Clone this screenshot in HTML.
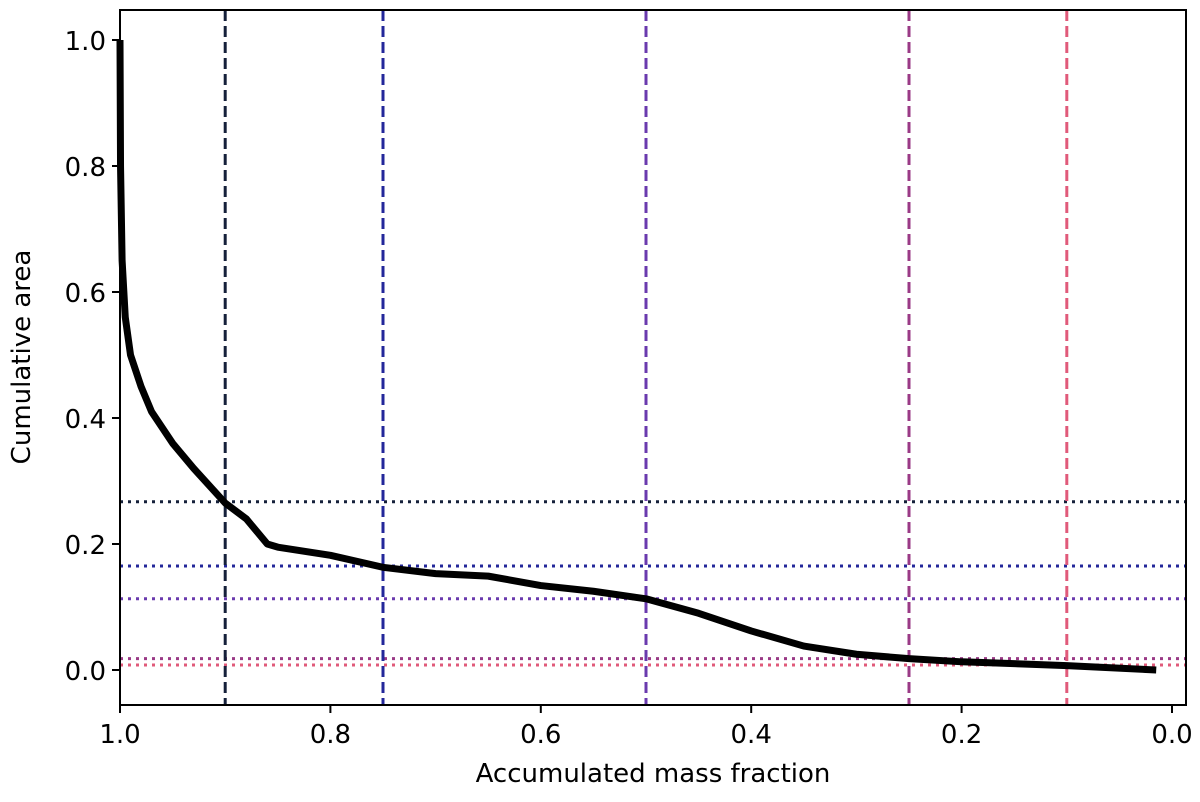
<!DOCTYPE html>
<html><head><meta charset="utf-8"><style>
body{margin:0;background:#fff;}
svg text{font-family:"DejaVu Sans","Liberation Sans",sans-serif;fill:#000;}
</style></head><body>
<svg id="chart" width="1200" height="797" xmlns="http://www.w3.org/2000/svg"></svg>
<script>
const xs=[1.0,0.9995,0.998,0.995,0.99,0.98,0.97,0.95,0.93,0.9,0.88,0.86,0.85,0.8,0.75,0.7,0.65,0.6,0.55,0.5,0.45,0.4,0.35,0.3,0.25,0.2,0.1,0.015];
const ys=[1.0,0.8,0.65,0.56,0.5,0.45,0.41,0.36,0.32,0.265,0.24,0.2,0.195,0.182,0.163,0.153,0.149,0.134,0.125,0.113,0.09,0.062,0.038,0.025,0.018,0.013,0.007,0.0];
const vLines=[0.9,0.75,0.5,0.25,0.1];
const hLines=[0.267,0.165,0.113,0.018,0.008];
const lineColors=["#15203a","#23279a","#6a3aae","#9a3a86","#e05a7a"];
const xTicks=[1.0,0.8,0.6,0.4,0.2,0.0];
const yTicks=[0.0,0.2,0.4,0.6,0.8,1.0];
const L=120,R=1186,T=10,B=705;
const X=v=>L+(1-v)*1052;
const Y=v=>670-v*630;
const svg=document.getElementById('chart');
const NS='http://www.w3.org/2000/svg';
function mk(tag,attrs,parent){const e=document.createElementNS(NS,tag);for(const k in attrs)e.setAttribute(k,attrs[k]);(parent||svg).appendChild(e);return e;}
hLines.forEach((v,i)=>{const e=mk('line',{x1:L,x2:R,y1:Y(v),y2:Y(v),stroke:lineColors[i],'stroke-width':3,'stroke-dasharray':'3,5'});

});
vLines.forEach((v,i)=>{const e=mk('line',{x1:X(v),x2:X(v),y1:T,y2:B,stroke:lineColors[i],'stroke-width':3,'stroke-dasharray':'11,5'});

});
const c=mk('polyline',{points:xs.map((x,i)=>X(x)+','+Y(ys[i])).join(' '),fill:'none',stroke:'#000','stroke-width':7,'stroke-linejoin':'round'});


const f=mk('rect',{x:L,y:T,width:R-L,height:B-T,fill:'none',stroke:'#000','stroke-width':2});


xTicks.forEach(v=>{mk('line',{x1:X(v),x2:X(v),y1:B,y2:B+8,stroke:'#000','stroke-width':2});
const t=mk('text',{x:X(v),y:B+38,'text-anchor':'middle','font-size':26});t.textContent=v.toFixed(1);

});
yTicks.forEach(v=>{mk('line',{x1:L-8,x2:L,y1:Y(v),y2:Y(v),stroke:'#000','stroke-width':2});
const t=mk('text',{x:L-14,y:Y(v)+10,'text-anchor':'end','font-size':26});t.textContent=v.toFixed(1);

});
const xt=mk('text',{x:653,y:782,'text-anchor':'middle','font-size':26});xt.textContent='Accumulated mass fraction';


const yt=mk('text',{x:0,y:0,'text-anchor':'middle','font-size':26,transform:'translate(30,357) rotate(-90)'});yt.textContent='Cumulative area';


</script>
</body></html>
